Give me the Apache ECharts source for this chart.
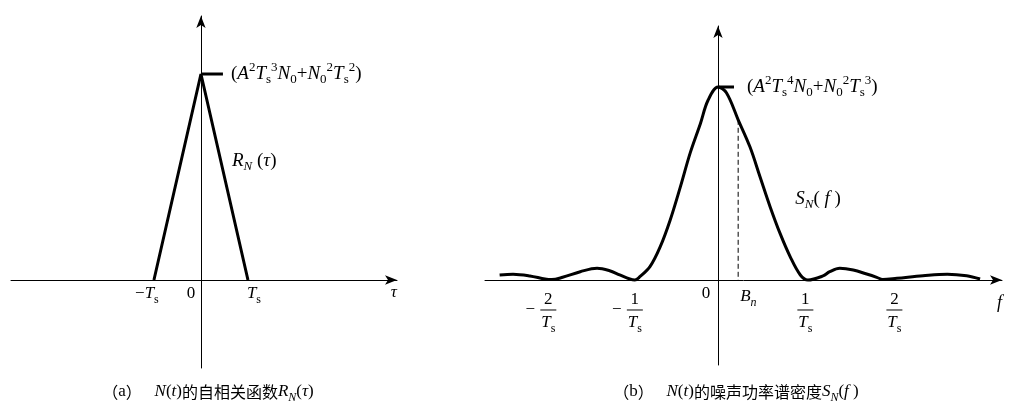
<!DOCTYPE html>
<html><head><meta charset="utf-8">
<script src="https://cdn.jsdelivr.net/npm/echarts@6/dist/echarts.min.js"></script>
<style>html,body{margin:0;padding:0;background:#fff}#c{width:1016px;height:406px}</style>
</head><body><div id="c"></div>
<script>
// ---- Data ----
// (a) autocorrelation R_N(tau), tau in units of Ts, value normalised to peak
const tauPts = [-1, 0, 1];
const rPts = [0, 1, 0];
// (b) power spectral density S_N(f), f in units of 1/Ts, value normalised to peak
const fPts = [-2.60, -2.44, -2.24, -2.06, -1.98, -1.85, -1.64, -1.44, -1.29, -1.17, -1.05, -0.99, -0.93, -0.81, -0.69, -0.57, -0.45, -0.33, -0.21, -0.12, 0, 0.10, 0.24, 0.38, 0.50, 0.62, 0.74, 0.86, 0.98, 1.07, 1.25, 1.33, 1.45, 1.61, 1.77, 1.89, 1.96, 2.13, 2.44, 2.73, 2.96, 3.12];
const sPts = [0.026, 0.030, 0.021, 0.005, 0.002, 0.014, 0.043, 0.061, 0.048, 0.026, 0.005, 0, 0.017, 0.069, 0.17, 0.31, 0.48, 0.66, 0.81, 0.93, 1.0, 0.97, 0.83, 0.69, 0.535, 0.38, 0.24, 0.12, 0.026, 0, 0.021, 0.043, 0.061, 0.052, 0.031, 0.014, 0.003, 0.009, 0.022, 0.030, 0.022, 0.005];
const bnF = 0.24;      // B_n position
const bnTop = 0.83;    // where dashed line meets the curve
// tick labels
const tauTickVals = [-1, 0, 1];
const tauTickTexts = ['{m|−}{i|T}{sub|s}', '{m|0}', '{i|T}{sub|s}'];
const fFracVals = [-2.02, -0.99, 1.04, 2.1];
const fFracNums = ['2', '1', '1', '2'];
const fFracNeg = [true, true, false, false];
const peakLabelA = '{m|(}{i|A}{sup|2}{i|T}{sub|s}{sup|3}{i|N}{sub|0}{m|+}{i|N}{sub|0}{sup|2}{i|T}{sub|s}{sup|2}{m|)}';
const peakLabelB = '{m|(}{i|A}{sup|2}{i|T}{sub|s}{sup|4}{i|N}{sub|0}{m|+}{i|N}{sub|0}{sup|2}{i|T}{sub|s}{sup|3}{m|)}';
const captionA = '{c|（}{m|a}{c|）}{m|   }{i|N}{m|(}{i|t}{m|)}{c|的自相关函数}{i|R}{subi|N}{m|(}{i|τ}{m|)}';
const captionB = '{c|（}{m|b}{c|）}{m|   }{i|N}{m|(}{i|t}{m|)}{c|的噪声功率谱密度}{i|S}{subi|N}{m|(}{i|f}{m| )}';

const SERIF = '"Liberation Serif","DejaVu Serif",serif';
const CJK = '"Noto Sans CJK SC","Noto Sans",sans-serif';
function rich(fs, cjk) {
  const s = Math.round(fs * 0.7);
  return {
    m: {fontFamily: SERIF, fontSize: fs, lineHeight: fs + 6, verticalAlign: 'middle', color: '#000'},
    i: {fontFamily: SERIF, fontSize: fs, fontStyle: 'italic', lineHeight: fs + 6, verticalAlign: 'middle', color: '#000'},
    sup: {fontFamily: SERIF, fontSize: s, verticalAlign: 'top', lineHeight: s + 1, color: '#000'},
    sub: {fontFamily: SERIF, fontSize: s, verticalAlign: 'bottom', lineHeight: s + 1, color: '#000'},
    subi: {fontFamily: SERIF, fontSize: s, fontStyle: 'italic', verticalAlign: 'bottom', lineHeight: s + 1, color: '#000'},
    c: {fontFamily: CJK, fontSize: cjk || fs, lineHeight: fs + 6, verticalAlign: 'middle', color: '#000'}
  };
}

const chart = echarts.init(document.getElementById('c'), null, {renderer: 'canvas'});
const axisCommon = {
  type: 'value',
  splitLine: {show: false}, axisTick: {show: false}, axisLabel: {show: false},
  axisLine: {show: true, onZero: true, symbol: ['none', 'arrow'], symbolSize: [7, 12], lineStyle: {color: '#000', width: 1}}
};
const thick = {color: '#000', width: 3};
chart.setOption({
  animation: false,
  backgroundColor: '#fff',
  grid: [
    {left: 11, top: 16, width: 386, height: 352, containLabel: false, outerBoundsMode: 'none'},
    {left: 485, top: 26, width: 517, height: 339, containLabel: false, outerBoundsMode: 'none'}
  ],
  xAxis: [
    Object.assign({}, axisCommon, {gridIndex: 0, min: -4.04, max: 4.17}),
    Object.assign({}, axisCommon, {gridIndex: 1, min: -2.774, max: 3.381})
  ],
  yAxis: [
    Object.assign({}, axisCommon, {gridIndex: 0, min: -0.4272, max: 1.2816}),
    Object.assign({}, axisCommon, {gridIndex: 1, min: -0.4404, max: 1.316})
  ],
  series: [
    {type: 'line', xAxisIndex: 0, yAxisIndex: 0, symbol: 'none', lineStyle: thick,
     data: tauPts.map((t, k) => [t, rPts[k]])},
    {type: 'line', xAxisIndex: 1, yAxisIndex: 1, symbol: 'none', smooth: 0.35, lineStyle: thick,
     data: fPts.map((f, k) => [f, sPts[k]])},
    {type: 'line', xAxisIndex: 1, yAxisIndex: 1, symbol: 'none', lineStyle: {color: '#000', width: 1, type: [5, 3]},
     data: [[bnF, bnTop], [bnF, 0]]}
  ]
});

function px(g, v) { return chart.convertToPixel({xAxisIndex: g, yAxisIndex: g}, v); }
const G = [];
function txt(x, y, text, fs, align, cjk) {
  G.push({type: 'text', x: x, y: y, silent: true,
    style: {text: text, rich: rich(fs, cjk), align: align || 'left', verticalAlign: 'middle', fill: '#000'}});
}
// Panel (a)
const pa = px(0, [0, 1]);
G.push({type: 'line', shape: {x1: pa[0], y1: pa[1], x2: pa[0] + 22, y2: pa[1]}, style: {stroke: '#000', lineWidth: 3}});
txt(pa[0] + 30, pa[1], peakLabelA, 19);
const rl = px(0, [0.66, 0.58]);
txt(rl[0], rl[1], '{i|R}{subi|N}{m| (}{i|τ}{m|)}', 19);
tauTickVals.forEach((v, k) => {
  const p = px(0, [v, 0]);
  const dx = v < 0 ? -7 : (v === 0 ? -10 : 6);
  txt(p[0] + dx, p[1] + 14, tauTickTexts[k], 17, 'center');
});
const ta = px(0, [4.1, 0]);
txt(ta[0], ta[1] + 13, '{i|τ}', 17, 'center');
txt(208, 392, captionA, 17, 'center', 16);
// Panel (b)
const pb = px(1, [0, 1]);
G.push({type: 'line', shape: {x1: pb[0], y1: pb[1], x2: pb[0] + 16, y2: pb[1]}, style: {stroke: '#000', lineWidth: 3}});
txt(pb[0] + 29, pb[1], peakLabelB, 19);
const sl = px(1, [0.92, 0.42]);
txt(sl[0], sl[1], '{i|S}{subi|N}{m|(}{i| f}{m| )}', 19);
const o = px(1, [0, 0]);
txt(o[0] - 12, o[1] + 14, '{m|0}', 17, 'center');
const bp = px(1, [bnF, 0]);
txt(bp[0] + 2, bp[1] + 17, '{i|B}{subi|n}', 17);
const fa = px(1, [3.35, 0]);
txt(fa[0], fa[1] + 23, '{i|f}', 18, 'center');
fFracVals.forEach((v, k) => {
  const p = px(1, [v, 0]);
  const cx = p[0], by = p[1] + 30;
  txt(cx, by - 10, '{m|' + fFracNums[k] + '}', 17, 'center');
  G.push({type: 'line', shape: {x1: cx - 8, y1: by, x2: cx + 8, y2: by}, style: {stroke: '#000', lineWidth: 1}});
  txt(cx, by + 13, '{i|T}{sub|s}', 17, 'center');
  if (fFracNeg[k]) txt(cx - 18, by, '{m|−}', 17, 'center');
});
txt(736, 392, captionB, 17, 'center', 16);
chart.setOption({graphic: G});
</script></body></html>
